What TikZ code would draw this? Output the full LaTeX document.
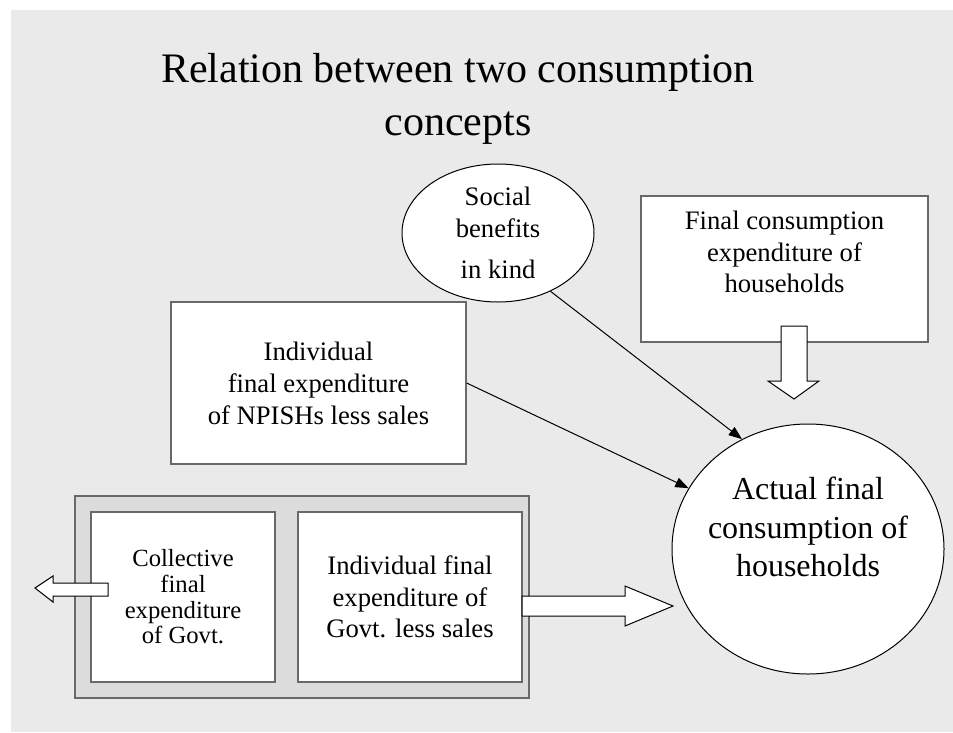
\documentclass[tikz,border=0pt]{standalone}
\usepackage{fontspec}
\setmainfont{Liberation Serif}
\usetikzlibrary{arrows.meta,shapes.geometric}

\definecolor{slidebg}{RGB}{234,234,234}
\definecolor{panelgray}{RGB}{220,220,220}
\definecolor{edgegray}{RGB}{105,105,105}

\begin{document}
\begin{tikzpicture}[x=0.75pt,y=-0.75pt,
  box/.style={draw=edgegray, line width=1pt, fill=white, align=center, inner sep=0pt},
  oval/.style={ellipse, draw=black, line width=0.75pt, fill=white, align=center, inner sep=0pt},
  midtext/.style={font=\fontsize{20}{23.6}\selectfont, align=center},
  thinarrow/.style={line width=0.75pt, -{Triangle[length=10pt,width=7.5pt]}},
  blockarrow/.style={draw=black, fill=white, line width=0.75pt}]
\useasboundingbox (0,0) rectangle (953,732);

% Slide background
\fill[slidebg] (11,10) rectangle (953,732);

% Title
\node[font=\fontsize{31.5}{39.75}\selectfont, align=center] (title) at (458,99)
  {Relation between two consumption\\concepts};

% Government panel
\node[box, fill=panelgray, minimum width=340.5pt, minimum height=151.5pt] (govpanel) at (302,597) {};
\node[box, minimum width=138pt, minimum height=127.5pt,
      font=\fontsize{18.5}{19.2}\selectfont] (collective) at (183,597)
  {Collective\\final\\expenditure\\of Govt.};
\node[box, minimum width=168pt, minimum height=127.5pt, midtext] (govind) at (410,597)
  {Individual final\\expenditure of\\Govt. less sales};

% Upper boxes
\node[box, minimum width=221.25pt, minimum height=121.5pt, font=\fontsize{20}{24}\selectfont] (npish) at (318.5,383)
  {Individual\\final expenditure\\of NPISHs less sales};
\node[box, minimum width=215.25pt, minimum height=109.5pt] (hhbox) at (784.5,269) {};
\node[midtext] (hhtext) at (784.5,252) {Final consumption\\expenditure of\\households};

% Social benefits in kind
\node[oval, minimum width=144pt, minimum height=103.5pt, font=\fontsize{20}{24}\selectfont] (benefits) at (498,233)
  {Social\\benefits\\[7pt]in kind};

% Actual final consumption
\node[oval, minimum width=204pt, minimum height=187.5pt] (actual) at (808,549) {};
\node[font=\fontsize{24}{29}\selectfont, align=center] (actualtext) at (808,527)
  {Actual final\\consumption of\\households};

% Thin arrows
\draw[thinarrow] (benefits.-48) -- (actual.121);
\draw[thinarrow] (npish.east) -- (actual.153);

% Block arrows
\draw[blockarrow] (781,326) -- (807,326) -- (807,381) -- (819,381) -- (794,399)
  -- (768,381) -- (781,381) -- cycle;
\draw[blockarrow] (108,583) -- (108,596) -- (53,596) -- (53,602) -- (35,588)
  -- (53,576) -- (53,583) -- cycle;
\draw[blockarrow] (522,596) -- (625,596) -- (625,586) -- (673,606) -- (625,626)
  -- (625,616) -- (522,616) -- cycle;
\end{tikzpicture}
\end{document}
